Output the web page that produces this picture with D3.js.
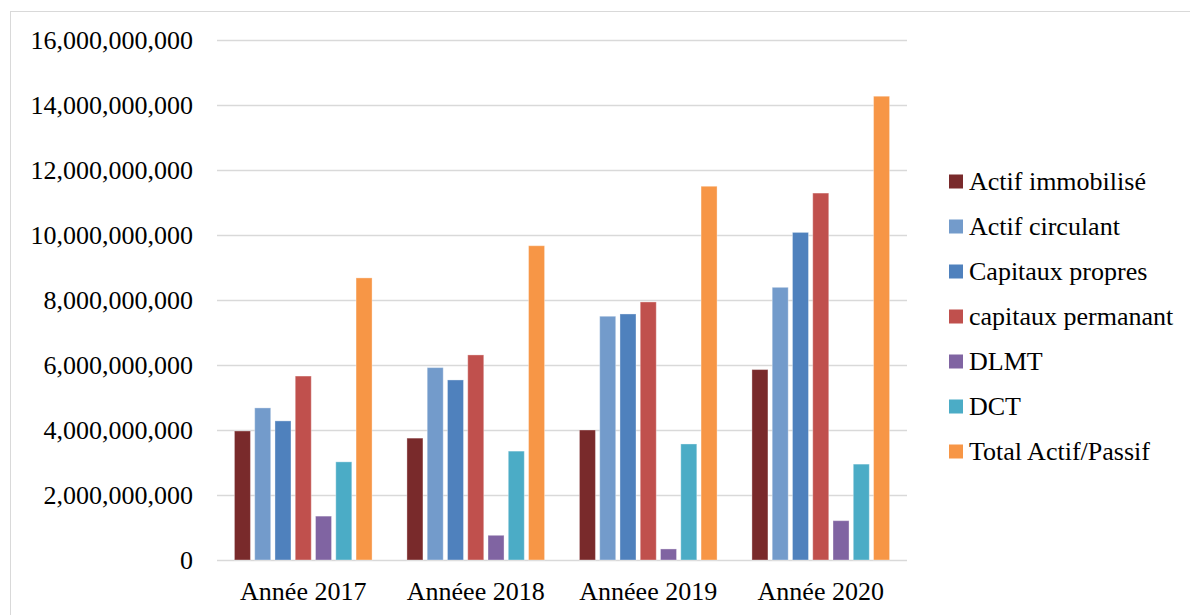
<!DOCTYPE html>
<html>
<head>
<meta charset="utf-8">
<script src="https://cdn.jsdelivr.net/npm/d3@7"></script>
<style>
	body { margin: 0; background: #fff; }
	svg text { font-family: "Liberation Serif", "Times New Roman", serif; fill: #000; }
</style>
</head>
<body>
<svg id="canvas" width="1190" height="615"></svg>
<script>
// values
const years = ["Année 2017", "Annéee 2018", "Annéee 2019", "Année 2020"];
const series = ["Actif immobilisé", "Actif circulant", "Capitaux propres", "capitaux permanant", "DLMT", "DCT", "Total Actif/Passif"];
const colors = ["#792A2B", "#739BCB", "#4F81BD", "#C0504D", "#8064A2", "#4BACC6", "#F79646"];

const actifImmobilise = [3970000000, 3750000000, 4000000000, 5860000000];
const actifCirculant  = [4680000000, 5920000000, 7500000000, 8390000000];
const capitauxPropres = [4280000000, 5540000000, 7570000000, 10080000000];
const capitauxPerm    = [5660000000, 6310000000, 7940000000, 11290000000];
const dlmt            = [1350000000, 760000000, 340000000, 1210000000];
const dct             = [3020000000, 3350000000, 3570000000, 2950000000];
const totalActif      = [8680000000, 9670000000, 11500000000, 14270000000];

const yTicks = [0, 2e9, 4e9, 6e9, 8e9, 10e9, 12e9, 14e9, 16e9];

const values = [actifImmobilise, actifCirculant, capitauxPropres, capitauxPerm, dlmt, dct, totalActif];

const svg = d3.select("#canvas");

// outer chart border
svg.append("rect")
	.attr("x", 10.5).attr("y", 11.5)
	.attr("width", 1200).attr("height", 700)
	.attr("fill", "none")
	.attr("stroke", "#d9d9d9");

const x = d3.scaleBand().domain(years).range([217, 907]).padding(0);
const xs = d3.scaleBand().domain(series).range([0, x.bandwidth()])
	.paddingInner(0.21).paddingOuter(0.86);
const y = d3.scaleLinear().domain([0, 16e9]).range([560, 40]);

const fmt = d3.format(",");

// grid lines
svg.append("g")
	.selectAll("line")
	.data(yTicks)
	.enter().append("line")
	.attr("x1", 217).attr("x2", 907)
	.attr("y1", d => Math.round(y(d)) + 0.5)
	.attr("y2", d => Math.round(y(d)) + 0.5)
	.attr("stroke", "#d9d9d9")
	.attr("stroke-width", 1.3);

// y labels
svg.append("g")
	.selectAll("text")
	.data(yTicks)
	.enter().append("text")
	.attr("x", 193)
	.attr("y", d => y(d))
	.attr("dy", "0.34em")
	.attr("text-anchor", "end")
	.style("font-size", "26px")
	.text(d => fmt(d));

// bars
const group = svg.append("g")
	.selectAll("g")
	.data(years)
	.enter().append("g")
	.attr("transform", d => "translate(" + x(d) + ",0)");

group.selectAll("rect")
	.data((d, i) => series.map((s, j) => ({ s: s, v: values[j][i], c: colors[j] })))
	.enter().append("rect")
	.attr("x", d => xs(d.s))
	.attr("width", xs.bandwidth())
	.attr("y", d => y(d.v))
	.attr("height", d => y(0) - y(d.v))
	.attr("fill", d => d.c)
	.attr("stroke", "#fff")
	.attr("stroke-opacity", 0.35)
	.attr("stroke-width", 1);

// x labels
svg.append("g")
	.selectAll("text")
	.data(years)
	.enter().append("text")
	.attr("x", d => x(d) + x.bandwidth() / 2)
	.attr("y", 600)
	.attr("text-anchor", "middle")
	.style("font-size", "26px")
	.text(d => d);

// legend
const legend = svg.append("g")
	.selectAll("g")
	.data(series)
	.enter().append("g")
	.attr("transform", (d, i) => "translate(949," + (181.5 + i * 45) + ")");

legend.append("rect")
	.attr("x", 0).attr("y", -7)
	.attr("width", 14).attr("height", 14)
	.attr("fill", (d, i) => colors[i]);

legend.append("text")
	.attr("x", 20)
	.attr("dy", "0.34em")
	.style("font-size", "26px")
	.text(d => d);
</script>
</body>
</html>
